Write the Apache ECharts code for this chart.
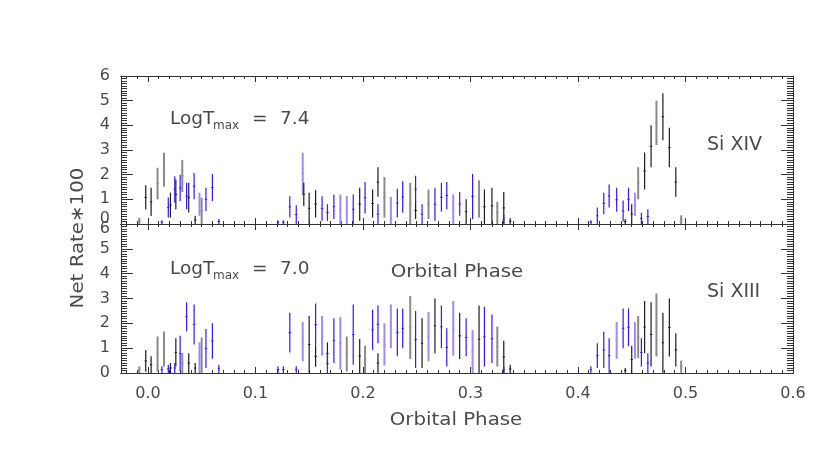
<!DOCTYPE html>
<html><head><meta charset="utf-8">
<script src="https://cdn.jsdelivr.net/npm/echarts@6/dist/echarts.min.js"></script>
<style>html,body{margin:0;padding:0;background:#fff}#c{width:830px;height:450px}</style>
</head><body><div id="c"></div>
<script>
const xTickLabels = ['0.0','0.1','0.2','0.3','0.4','0.5','0.6'];
const yTickLabels = ['0','1','2','3','4','5','6'];
const panelLines = ['Si XIV', 'Si XIII'];
const panelTemps = ['7.4', '7.0'];

// error bars: [orbital phase, low, high]   (Net Rate*100)
const siXIV_black = [
 [-0.002,0.59,1.57],[0.003,0.32,1.47],[0.021,0.26,1.27],[0.026,0.6,1.8],[0.038,0.47,1.67],[0.044,0,0.33],
 [0.145,0.73,1.67],[0.150,0,1.27],[0.156,0.26,1.37],[0.197,0.13,1.47],[0.209,0.26,1.4],[0.214,1.1,2.3],
 [0.249,0.2,0.9],[0.296,0,1.0],[0.313,0,1.4],[0.320,0,1.47],[0.331,0,1.3],[0.337,0,0.23],
 [0.444,0,0.2],[0.450,0,0.8],[0.462,1.4,2.9],[0.468,2.3,4.0],[0.479,3.4,5.3],[0.485,2.3,3.9],[0.491,1.1,2.3]
];
const siXIV_gray = [
 [-0.008,0,0.25],[0.009,1.0,2.28],[0.015,1.51,2.89],[0.032,1.3,2.6],[0.050,0,1.07],
 [0.220,0.26,1.9],[0.244,0,1.67],[0.261,0.2,1.4],[0.308,0.26,1.77],[0.325,0,0.9],
 [0.456,1.0,2.3],[0.473,3.2,5.0],[0.496,0,0.35]
];
const siXIV_blue = [
 [0.013,0,0.15],[0.019,0.26,1.07],[0.025,0.87,1.94],[0.030,0.93,2.0],[0.036,0.6,1.67],[0.043,1.0,2.07],
 [0.054,0.53,1.47],[0.060,0.93,2.03],[0.066,0,0.2],[0.121,0,0.15],[0.126,0,0.15],[0.132,0.26,1.13],
 [0.138,0,0.76],[0.162,0.13,1.13],[0.167,0.13,0.8],[0.173,0.2,1.2],[0.191,0,1.2],[0.202,0.43,1.7],
 [0.214,0,0.8],[0.232,0.26,1.43],[0.237,0.47,1.73],[0.249,0.87,1.96],[0.255,0,0.8],[0.267,0.13,1.47],
 [0.273,0.5,1.67],[0.278,0.6,1.7],[0.290,0.33,1.3],[0.302,0.2,2.03],[0.331,0,0.4],
 [0.412,0,0.15],[0.418,0,0.67],[0.424,0.4,1.27],[0.429,0.67,1.6],[0.436,0.5,1.47],[0.442,0.1,0.95],
 [0.447,0.53,1.47],[0.459,0,0.46],[0.465,0,0.6]
];
const siXIV_lightBlue = [
 [0.048,0.33,1.27],[0.144,1.2,2.89],[0.179,0,1.2],[0.185,0,1.13],[0.226,0,1.1],[0.284,0,1.2],[0.453,0.33,1.27]
];

const siXIII_black = [
 [-0.002,0.05,0.93],[0.003,0,0.67],[0.021,0,0.4],[0.026,0.26,1.4],[0.038,0,0.8],[0.044,0,0.4],
 [0.150,0,2.3],[0.156,0.25,1.09],[0.167,0.33,1.23],[0.197,0,1.37],[0.214,0,0.8],[0.255,0.2,2.2],
 [0.267,0.8,3.0],[0.290,0.56,2.43],[0.308,0,2.72],[0.331,0,1.3],[0.337,0,0.33],
 [0.444,0,0.2],[0.450,0,1.1],[0.462,0.8,2.9],[0.468,0.26,2.85],[0.479,0,2.43],[0.485,0.66,3.0],[0.491,0.26,1.6]
];
const siXIII_gray = [
 [-0.008,0,0.27],[0.009,0.06,1.47],[0.015,0.26,1.67],[0.032,0,0.8],[0.050,0,1.43],
 [0.185,0.06,1.47],[0.202,0,1.1],[0.244,0.56,3.1],[0.325,0.26,1.87],
 [0.456,0.6,2.3],[0.473,0.67,3.2],[0.496,0,0.5]
];
const siXIII_blue = [
 [0.013,0,0.27],[0.019,0,0.33],[0.025,0,0.4],[0.030,0.06,1.5],[0.036,1.68,2.85],[0.043,1.15,2.76],
 [0.054,0.2,1.77],[0.060,0.57,2.0],[0.066,0,0.33],[0.121,0,0.27],[0.126,0,0.27],[0.132,0.83,2.43],
 [0.138,0,0.27],[0.156,1.1,2.8],[0.167,0,0.76],[0.173,0.4,2.2],[0.191,0.33,2.76],[0.209,0.93,2.55],
 [0.214,1.2,2.72],[0.232,0.67,2.6],[0.237,1.0,2.6],[0.249,0.2,2.5],[0.273,1.0,2.72],[0.278,0.26,1.8],
 [0.296,0.67,2.2],[0.313,0.26,2.66],[0.320,0.4,2.36],[0.331,0,0.27],
 [0.412,0,0.27],[0.418,0.2,1.2],[0.424,0.2,1.66],[0.429,0,1.4],[0.442,1.0,2.6],[0.447,1.08,2.6],
 [0.459,0.26,1.4],[0.465,0,0.8]
];
const siXIII_lightBlue = [
 [0.048,0,1.23],[0.144,0.47,2.05],[0.162,0.7,2.3],[0.179,0.13,2.25],[0.220,0.3,2.0],[0.226,1.0,2.76],
 [0.261,0.47,2.45],[0.284,0.7,2.9],[0.302,0,1.73],[0.436,0.57,2.05],[0.453,0.57,2.05]
];

const FONT = 'DejaVu Sans';
const TXT = '#4a4a4a';
const AX = '#333';
const majorX = xTickLabels.map(Number);
const minorX = [];
for (let i = -2; i <= 60; i++) { if (i % 10 !== 0) minorX.push(+(i / 100).toFixed(2)); }

function xAx(gi, pos, vals, len, showLabel) {
  return {
    type: 'value', gridIndex: gi, position: pos, min: -0.025, max: 0.6,
    axisLine: {show: true, onZero: false, lineStyle: {color: AX, width: 1}},
    axisTick: {show: true, inside: true, length: len, customValues: vals, lineStyle: {color: AX}},
    axisLabel: {show: showLabel, customValues: majorX, margin: 13, color: TXT, fontFamily: FONT, fontSize: 16,
      formatter: v => xTickLabels[Math.round(v * 10)]},
    splitLine: {show: false}
  };
}
function yAx(gi, pos, showLabel, special) {
  return {
    type: 'value', gridIndex: gi, position: pos, min: 0, max: 6, interval: 1,
    axisLine: {show: true, onZero: false, lineStyle: {color: AX, width: 1}},
    axisTick: {show: true, inside: true, length: 12, lineStyle: {color: AX}},
    minorTick: {show: true, splitNumber: 10, length: 6, lineStyle: {color: AX}},
    axisLabel: {show: showLabel, margin: 11, color: TXT, fontFamily: FONT, fontSize: 16,
      formatter: v => {
        const s = yTickLabels[Math.round(v)];
        if (special === 'top' && v === 0) return '{up|' + s + '}';
        if (special === 'bot' && v === 6) return '{dn|' + s + '}';
        return s;
      },
      rich: {
        up: {color: TXT, fontFamily: FONT, fontSize: 16, padding: [0, 0, 10, 0]},
        dn: {color: TXT, fontFamily: FONT, fontSize: 16, padding: [10, 0, 0, 0]}
      }},
    splitLine: {show: false}
  };
}

function barSeries(data, xi, yi, color, w) {
  return {
    type: 'custom', xAxisIndex: xi, yAxisIndex: yi, data: data, silent: true, clip: true,
    encode: {x: 0, y: [1, 2]},
    renderItem: function (params, api) {
      const x = api.value(0), lo = api.value(1), hi = api.value(2);
      const p1 = api.coord([x, lo]), p2 = api.coord([x, hi]), pm = api.coord([x, (lo + hi) / 2]);
      return {type: 'group', children: [
        {type: 'line', shape: {x1: p1[0], y1: p1[1], x2: p2[0], y2: p2[1]}, style: {stroke: color, lineWidth: w}},
        {type: 'line', shape: {x1: pm[0] - 1.2, y1: pm[1], x2: pm[0] + 1.2, y2: pm[1]}, style: {stroke: color, lineWidth: 1}}
      ]};
    }
  };
}

const BLACK = '#1c1c1c', GRAY = '#8a8a8a', BLUE = '#3a16f2', LBLUE = '#9c8cf6';

function txt(x, y, s, size, align, sx, rot) {
  return {type: 'text', x: x, y: y, silent: true, scaleX: sx || 1, rotation: rot || 0,
    style: {text: s, fill: TXT, font: size + 'px "' + FONT + '"', textAlign: align || 'left', textVerticalAlign: 'middle'}};
}

const option = {
  backgroundColor: '#ffffff',
  animation: false,
  grid: [
    {left: 121, right: 37, top: 76, height: 148},
    {left: 121, right: 37, top: 224, height: 149}
  ],
  xAxis: [
    xAx(0, 'bottom', minorX, 3, false), xAx(0, 'bottom', majorX, 6, false),
    xAx(0, 'top', minorX, 3, false), xAx(0, 'top', majorX, 6, false),
    xAx(1, 'bottom', minorX, 3, true), xAx(1, 'bottom', majorX, 6, false),
    xAx(1, 'top', minorX, 3, false), xAx(1, 'top', majorX, 6, false)
  ],
  yAxis: [
    yAx(0, 'left', true, 'top'), yAx(0, 'right', false),
    yAx(1, 'left', true, 'bot'), yAx(1, 'right', false)
  ],
  series: [
    barSeries(siXIV_gray, 0, 0, GRAY, 2), barSeries(siXIV_lightBlue, 0, 0, LBLUE, 2),
    barSeries(siXIV_black, 0, 0, BLACK, 1.2), barSeries(siXIV_blue, 0, 0, BLUE, 1.2),
    barSeries(siXIII_gray, 4, 2, GRAY, 2), barSeries(siXIII_lightBlue, 4, 2, LBLUE, 2),
    barSeries(siXIII_black, 4, 2, BLACK, 1.2), barSeries(siXIII_blue, 4, 2, BLUE, 1.2)
  ],
  graphic: [
    txt(170, 119, 'LogT', 18.5), txt(213, 125.5, 'max', 12),
    txt(252, 119, '=', 18.5), txt(280, 119, panelTemps[0], 18.5),
    txt(170, 269, 'LogT', 18.5), txt(213, 275.5, 'max', 12),
    txt(252, 269, '=', 18.5), txt(280, 269, panelTemps[1], 18.5),
    txt(707, 145, panelLines[0], 19), txt(707, 292, panelLines[1], 19),
    txt(457, 272, 'Orbital Phase', 18, 'center', 1.1),
    txt(456, 420, 'Orbital Phase', 18, 'center', 1.1),
    txt(78, 238, 'Net Rate\u2217100', 18, 'center', 1.1, Math.PI / 2)
  ]
};
const chart = echarts.init(document.getElementById('c'), null, {renderer: 'canvas'});
chart.setOption(option);
</script>
</body></html>
